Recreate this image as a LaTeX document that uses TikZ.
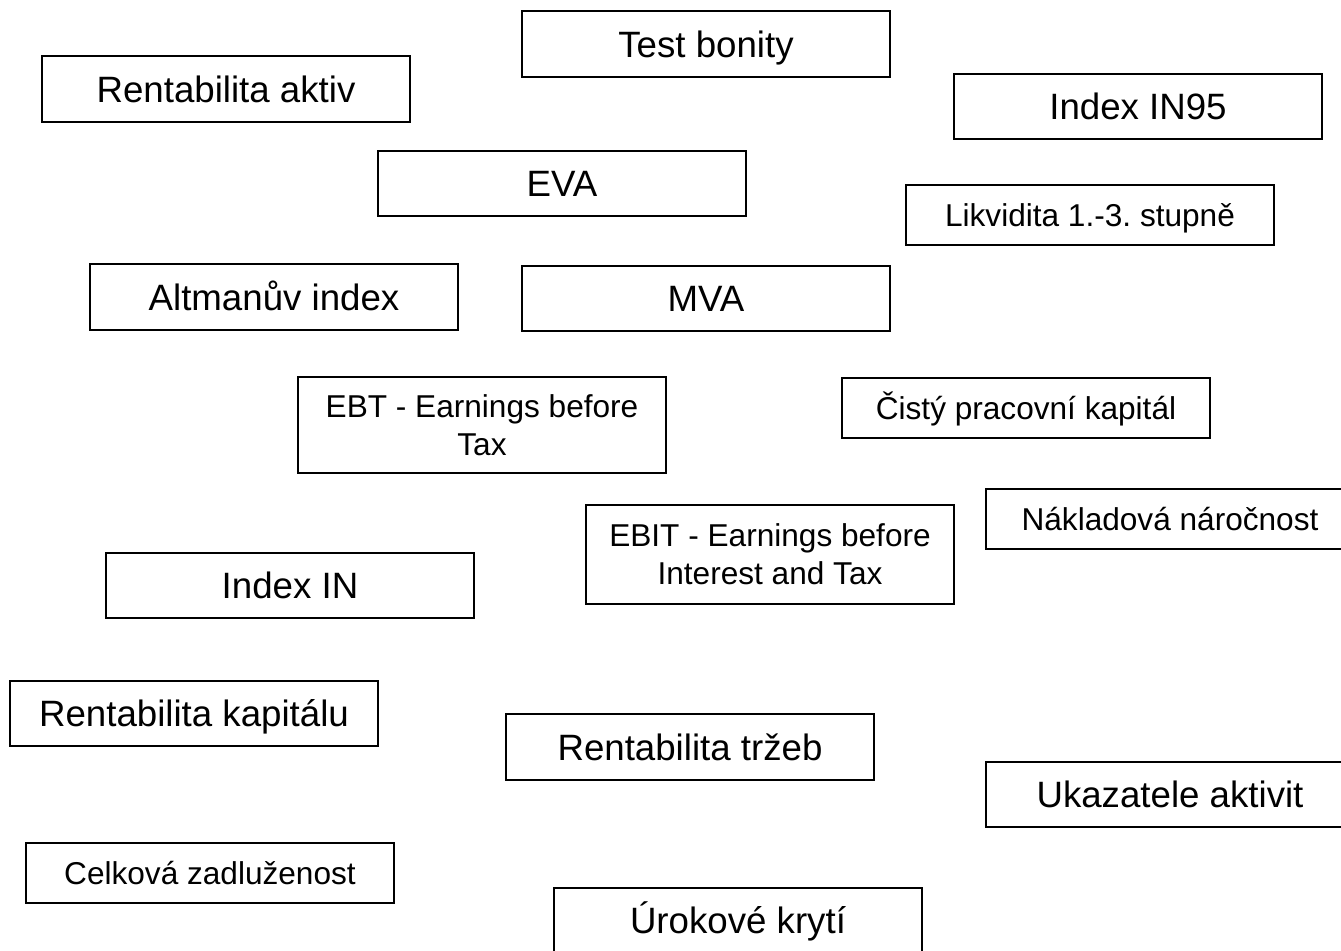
\documentclass[tikz,border=0pt]{standalone}
\usepackage{fontspec}
\setmainfont{Liberation Sans}
\usepackage{tikz}
\frenchspacing

\begin{document}
\begin{tikzpicture}[x=0.75pt,y=-0.75pt,line width=1.5pt]
        \tikzstyle{ukazatel}=[draw=black,rectangle,inner sep=0pt,minimum width=276pt,
            minimum height=49pt,text height=19.7pt,text depth=0pt,
            font=\fontsize{27.5}{33}\selectfont]
        \tikzstyle{maly}=[ukazatel,minimum height=45pt,text height=17pt,
            font=\fontsize{23.7}{28.5}\selectfont]
        \tikzstyle{dvojity}=[draw=black,rectangle,inner sep=0pt,minimum width=276pt,
            align=center,font=\fontsize{23.7}{28.5}\selectfont]

        \useasboundingbox (0,0) rectangle (1341,950);

        \node[ukazatel] (testbonity) at (706,44) {Test bonity};
        \node[ukazatel] (rentaktiv) at (226,89) {Rentabilita aktiv};
        \node[ukazatel] (in95) at (1138,106.5) {Index IN95};
        \node[ukazatel] (eva) at (562,183.5) {EVA};
        \node[maly] (likvidita) at (1090,215) {Likvidita 1.-3. stupně};
        \node[ukazatel] (altman) at (274,297) {Altmanův index};
        \node[ukazatel] (mva) at (706,298.5) {MVA};
        \node[dvojity,minimum height=72pt] (ebt) at (482,425)
            {EBT - Earnings before\\Tax};
        \node[maly] (cpk) at (1026,408) {Čistý pracovní kapitál};
        \node[maly] (naklad) at (1170,519) {Nákladová náročnost};
        \node[dvojity,minimum height=74pt] (ebit) at (770,554.5)
            {EBIT - Earnings before\\Interest and Tax};
        \node[ukazatel] (indexin) at (290,585.5) {Index IN};
        \node[ukazatel] (rentkap) at (194,713.5) {Rentabilita kapitálu};
        \node[ukazatel] (renttrzeb) at (690,747) {Rentabilita tržeb};
        \node[ukazatel] (aktivity) at (1170,794.5) {Ukazatele aktivit};
        \node[maly] (zadluz) at (210,873) {Celková zadluženost};
        \node[ukazatel] (uroky) at (738,920.5) {Úrokové krytí};

        \end{tikzpicture}
\end{document}
